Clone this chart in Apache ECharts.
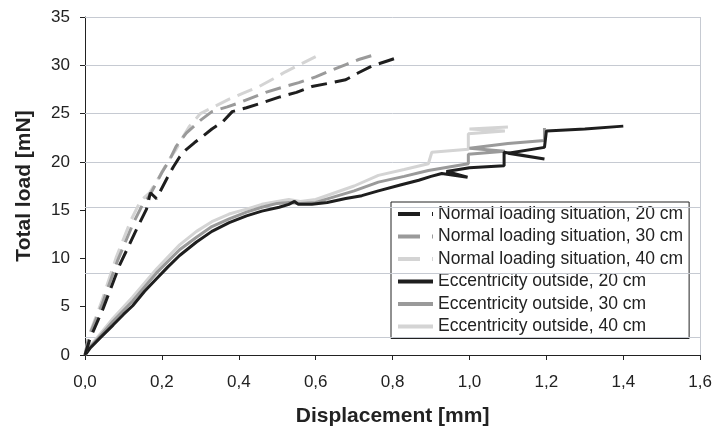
<!DOCTYPE html>
<html><head><meta charset="utf-8">
<script src="https://cdn.jsdelivr.net/npm/echarts@6/dist/echarts.min.js"></script>
<style>html,body{margin:0;padding:0;background:#fff}#c{width:715px;height:432px}</style>
</head><body><div id="c"></div>
<script>
const seriesNames = [
  'Normal loading situation, 20 cm',
  'Normal loading situation, 30 cm',
  'Normal loading situation, 40 cm',
  'Eccentricity outside, 20 cm',
  'Eccentricity outside, 30 cm',
  'Eccentricity outside, 40 cm'
];
const normal20 = [[0,0],[0.013,1.7],[0.047,4.8],[0.09,9.3],[0.135,13.1],[0.16,15.1],[0.17,16.8],[0.186,16.2],[0.212,18.2],[0.23,19.5],[0.246,20.5],[0.264,21.3],[0.285,22.0],[0.305,22.6],[0.33,23.4],[0.357,24.1],[0.383,25.2],[0.42,25.6],[0.46,26.1],[0.505,26.7],[0.55,27.2],[0.59,27.8],[0.642,28.2],[0.678,28.5],[0.71,29.2],[0.745,29.9],[0.79,30.5],[0.82,30.9]];
const normal30 = [[0,0],[0.01,1.9],[0.045,5.3],[0.085,9.8],[0.125,13.6],[0.15,15.6],[0.168,16.5],[0.2,18.9],[0.22,20.2],[0.237,21.6],[0.25,22.3],[0.264,23.0],[0.3,24.3],[0.33,25.2],[0.37,25.7],[0.40,26.1],[0.47,27.2],[0.52,27.8],[0.556,28.2],[0.6,28.8],[0.642,29.5],[0.68,30.1],[0.712,30.6],[0.745,31.0]];
const normal40 = [[0,0],[0.01,2.0],[0.043,5.5],[0.082,10.2],[0.12,14.0],[0.145,16.0],[0.168,16.8],[0.194,18.5],[0.215,20.0],[0.237,21.3],[0.255,22.6],[0.272,23.7],[0.3,25.0],[0.33,25.6],[0.375,26.5],[0.41,27.1],[0.453,27.8],[0.49,28.6],[0.52,29.3],[0.565,30.2],[0.60,30.9]];
const ecc20 = [[0,0],[0.013,0.7],[0.04,1.8],[0.073,3.1],[0.1,4.2],[0.124,5.1],[0.155,6.6],[0.186,7.9],[0.215,9.1],[0.246,10.3],[0.29,11.7],[0.33,12.8],[0.375,13.7],[0.42,14.4],[0.46,14.9],[0.505,15.3],[0.53,15.6],[0.545,15.9],[0.555,15.6],[0.59,15.6],[0.63,15.8],[0.678,16.2],[0.72,16.5],[0.763,17.0],[0.82,17.6],[0.868,18.1],[0.9,18.5],[0.928,18.8],[0.995,18.4],[0.94,19.0],[1.0,19.4],[1.09,19.6],[1.09,21.0],[1.195,20.3],[1.1,20.9],[1.195,21.5],[1.2,23.2],[1.3,23.4],[1.4,23.7]];
const ecc30 = [[0,0],[0.013,0.8],[0.04,2.0],[0.073,3.5],[0.124,5.6],[0.186,8.5],[0.246,10.9],[0.29,12.2],[0.33,13.3],[0.375,14.1],[0.42,14.8],[0.46,15.3],[0.5,15.7],[0.53,15.8],[0.56,15.7],[0.6,15.8],[0.65,16.4],[0.7,17.0],[0.763,17.9],[0.83,18.5],[0.893,19.1],[0.997,19.8],[0.997,20.8],[1.092,21.1],[1.0,21.4],[1.1,21.9],[1.195,22.2],[1.195,23.5]];
const ecc40 = [[0,0],[0.013,0.9],[0.04,2.2],[0.073,3.8],[0.124,6.0],[0.186,8.9],[0.246,11.4],[0.29,12.8],[0.33,13.8],[0.375,14.6],[0.42,15.1],[0.46,15.6],[0.5,15.9],[0.53,16.1],[0.56,15.9],[0.6,16.1],[0.65,16.8],[0.7,17.5],[0.763,18.6],[0.83,19.2],[0.893,19.8],[0.902,21.0],[0.997,21.3],[0.997,22.9],[1.092,23.2],[1.0,23.4],[1.1,23.6]];
const gridLineValues = [35, 30, 25, 20, 15.3, 8.5, 1.85];

const dataSets = [normal20, normal30, normal40, ecc20, ecc30, ecc40];
const colors = ['#1e1e1e', '#9a9a9a', '#d4d4d4', '#1e1e1e', '#9a9a9a', '#d4d4d4'];
const font = 'Liberation Sans, Arial, sans-serif';
const dashIcon = 'path://M0,0h22v4h-22z M34,0h1v4h-1z';
const lineIcon = 'path://M0,0h35v4h-35z';

const series = dataSets.map((d, i) => ({
  name: seriesNames[i],
  type: 'line',
  data: d,
  showSymbol: false,
  symbol: 'none',
  z: 10 - i,
  lineStyle: {
    color: colors[i],
    width: 3,
    type: i < 3 ? [16, 8] : 'solid'
  },
  itemStyle: { color: colors[i] }
}));
series.push({
  type: 'line', data: [], silent: true, z: 1,
  markLine: {
    silent: true, symbol: ['none','none'], animation: false,
    label: { show: false },
    lineStyle: { color: '#c6cad2', width: 1, type: 'solid' },
    data: gridLineValues.map(v => ({ yAxis: v })).concat([{ xAxis: 1.6 }])
  }
});

const chart = echarts.init(document.getElementById('c'));
chart.setOption({
  animation: false,
  color: colors,
  grid: { left: 85, right: 12, top: 17, bottom: 75, containLabel: false },
  legend: {
    orient: 'vertical', left: 391, top: 202,
    padding: [2, 6, 2, 7],
    itemGap: 2.5,
    itemWidth: 35, itemHeight: 4,
    borderColor: '#222', borderWidth: 1, backgroundColor: '#fff',
    itemStyle: { borderWidth: 0 },
    lineStyle: { type: 'solid' },
    textStyle: { fontFamily: font, fontSize: 17.5, lineHeight: 20, color: '#222' },
    data: seriesNames.map((n, i) => ({ name: n, icon: i < 3 ? dashIcon : lineIcon }))
  },
  xAxis: {
    type: 'value', min: 0, max: 1.6, interval: 0.2,
    axisLine: { show: true, lineStyle: { color: '#222', width: 1 } },
    axisTick: { show: true, length: 5, lineStyle: { color: '#222' } },
    splitLine: { show: false },
    axisLabel: { fontFamily: font, fontSize: 17, color: '#222', margin: 19,
      formatter: v => v.toFixed(1).replace('.', ',') },
    name: 'Displacement [mm]', nameLocation: 'middle', nameGap: 51,
    nameTextStyle: { fontFamily: font, fontSize: 21, fontWeight: 'bold', color: '#222' }
  },
  yAxis: {
    type: 'value', min: 0, max: 35, interval: 5,
    axisLine: { show: true, lineStyle: { color: '#222', width: 1 } },
    axisTick: { show: true, length: 5, lineStyle: { color: '#222' } },
    splitLine: { show: false },
    axisLabel: { fontFamily: font, fontSize: 17, color: '#222', margin: 15 },
    name: 'Total load [mN]', nameLocation: 'middle', nameGap: 50,
    nameTextStyle: { fontFamily: font, fontSize: 21, fontWeight: 'bold', color: '#222' }
  },
  series: series
});
</script></body></html>
